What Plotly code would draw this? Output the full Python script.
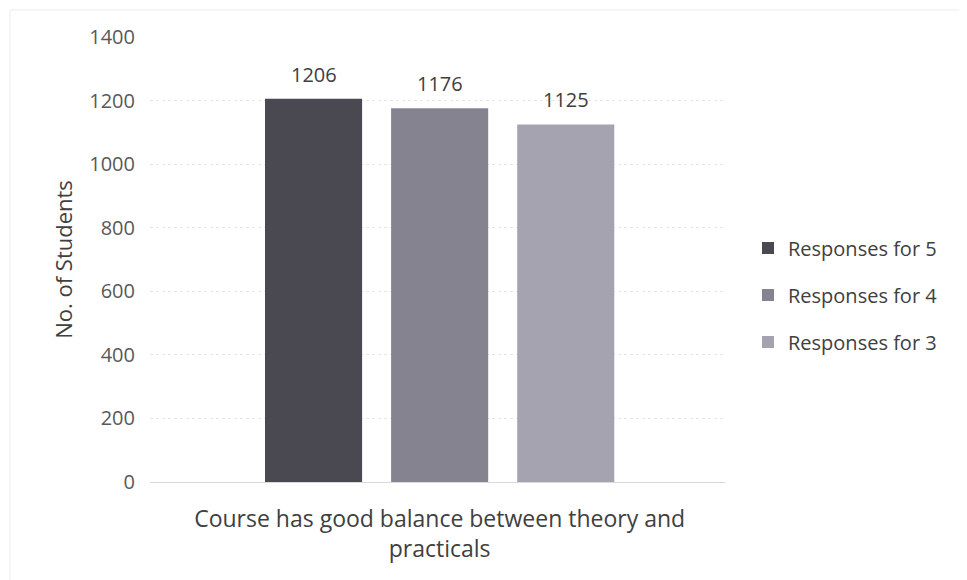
import plotly.graph_objects as go

category = "Course has good balance between theory and<br>practicals"
series_names = ["Responses for 5", "Responses for 4", "Responses for 3"]
series_values = [1206, 1176, 1125]
colors = ["#4a4951", "#85838f", "#a4a3af"]
y_ticks = [0, 200, 400, 600, 800, 1000, 1200, 1400]

positions = list(range(len(series_names)))
center = sum(positions) / len(positions)

fig = go.Figure()
for i, (name, val, c) in enumerate(zip(series_names, series_values, colors)):
    fig.add_trace(go.Bar(
        x=[positions[i]], y=[val], name=name, legendgroup=name, width=0.77,
        marker=dict(color=c, line=dict(width=0)),
    ))
    fig.add_annotation(x=positions[i], y=val, text=str(val), showarrow=False,
                       yanchor="bottom", yshift=9,
                       font=dict(size=20, color="#404040"))

fig.update_layout(
    width=967, height=580,
    margin=dict(l=142, r=250, t=29, b=106),
    paper_bgcolor="white", plot_bgcolor="white",
    barmode="overlay",
    font=dict(family="Open Sans, Liberation Sans, sans-serif", color="#595959"),
    showlegend=True,
    legend=dict(x=1.04, y=0.42, xanchor="left", yanchor="middle",
                font=dict(size=20, color="#404040"), tracegroupgap=18,
                traceorder="grouped", itemwidth=30),
    yaxis=dict(range=[0, 1400], tickvals=y_ticks, showgrid=True,
               gridcolor="#e6e6e6", griddash="dot", zeroline=False,
               tickfont=dict(size=20, color="#595959"), ticks="", ticklabelstandoff=14,
               title=dict(text="No. of Students", font=dict(size=22, color="#404040"), standoff=10),
               showline=False),
    xaxis=dict(range=[center - 2.297, center + 2.263], tickvals=[center], ticktext=[category],
               tickfont=dict(size=23, color="#404040"), showline=True, showgrid=False,
               zeroline=False, linecolor="#d9d9d9", ticks="", ticklabelstandoff=16),
)
fig.add_shape(type="rect", xref="paper", yref="paper",
              x0=-140/575, x1=1+247/575, y0=-104/445, y1=1+27/445,
              line=dict(color="#e8eef2", width=1))
fig.write_html("out.html")
